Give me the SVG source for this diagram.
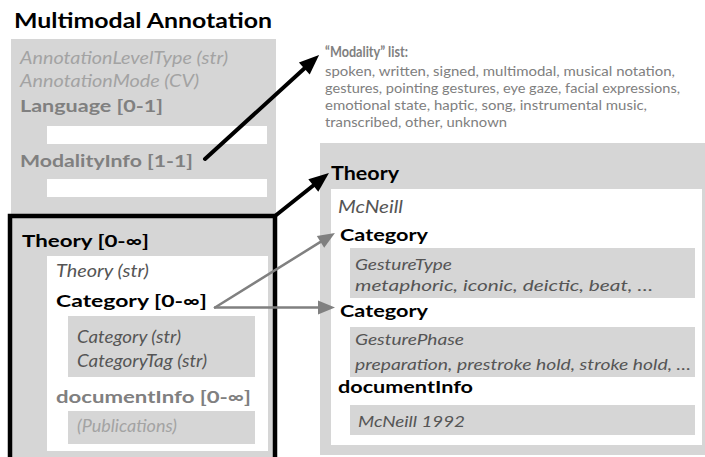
<svg xmlns="http://www.w3.org/2000/svg" width="705" height="457" viewBox="0 0 705 457">
  <style>
    text { font-family: Lato, "Open Sans", "Liberation Sans", sans-serif; }
    .panel { fill: #d6d6d6; }
    .white { fill: #ffffff; }
    .title { font-size: 20px; font-weight: bold; fill: #000; }
    .hdr { font-size: 17px; font-weight: bold; }
    .fld { font-size: 17px; font-style: italic; }
    .val { font-size: 15.5px; font-style: italic; fill: #555; }
    .black { fill: #000; }
    .mid { fill: #808080; }
    .light { fill: #a3a3a3; }
    .dark { fill: #555; }
    .list { font-size: 12.5px; fill: #808080; }
    .list-head { font-size: 14.5px; font-weight: bold; fill: #808080; }
    .big { font-size: 18.5px; }
    .name { font-size: 17px; }
    .conn-black { stroke: #000; stroke-width: 4; fill: none; stroke-linecap: round; }
    .conn-gray { stroke: #808080; stroke-width: 2.5; fill: none; stroke-linecap: round; }
  </style>
  <defs>
    <marker id="headBlack" markerUnits="userSpaceOnUse" markerWidth="22" markerHeight="18" refX="0" refY="8" orient="auto" overflow="visible">
      <path d="M0,0 L20,8 L0,16 Z" fill="#000"/>
    </marker>
    <marker id="headGray" markerUnits="userSpaceOnUse" markerWidth="19" markerHeight="15" refX="0" refY="7" orient="auto" overflow="visible">
      <path d="M0,0 L17,7 L0,14 Z" fill="#808080"/>
    </marker>
  </defs>

  <!-- Multimodal Annotation record -->
  <g id="multimodal-annotation">
    <text class="title" x="14" y="28" textLength="258" lengthAdjust="spacingAndGlyphs">Multimodal Annotation</text>
    <rect class="panel" x="11" y="39" width="265" height="420"/>
    <text class="fld light" x="20" y="64" textLength="208" lengthAdjust="spacingAndGlyphs">AnnotationLevelType (str)</text>
    <text class="fld light" x="20" y="87" textLength="179" lengthAdjust="spacingAndGlyphs">AnnotationMode (CV)</text>
    <text class="hdr mid" x="20" y="112" textLength="143" lengthAdjust="spacingAndGlyphs">Language [0-1]</text>
    <rect class="white" x="47" y="126" width="220" height="18"/>
    <text class="hdr mid" x="20" y="167" textLength="173" lengthAdjust="spacingAndGlyphs">ModalityInfo [1-1]</text>
    <rect class="white" x="47" y="179" width="220" height="18"/>
  </g>

  <!-- Theory element (highlighted) -->
  <g id="theory-element">
    <rect x="10" y="216" width="265" height="260" fill="#d6d6d6" stroke="#000" stroke-width="4.5"/>
    <text class="hdr black" x="22" y="247" textLength="127" lengthAdjust="spacingAndGlyphs">Theory [0-∞]</text>
    <rect class="white" x="47" y="256" width="221" height="195"/>
    <text class="fld dark" x="56" y="277" textLength="93" lengthAdjust="spacingAndGlyphs">Theory (str)</text>
    <text class="hdr black" x="56" y="307" textLength="151" lengthAdjust="spacingAndGlyphs">Category [0-∞]</text>
    <rect class="panel" x="68" y="316" width="187" height="61"/>
    <text class="fld dark" x="77" y="343" textLength="104" lengthAdjust="spacingAndGlyphs">Category (str)</text>
    <text class="fld dark" x="77" y="367" textLength="130" lengthAdjust="spacingAndGlyphs">CategoryTag (str)</text>
    <text class="hdr mid" x="56" y="403" textLength="195" lengthAdjust="spacingAndGlyphs">documentInfo [0-∞]</text>
    <rect class="panel" x="68" y="411" width="187" height="33"/>
    <text class="fld light" x="77" y="432" textLength="100" lengthAdjust="spacingAndGlyphs">(Publications)</text>
  </g>

  <!-- Modality vocabulary -->
  <g id="modality-list">
    <text class="list-head" x="325" y="57" textLength="83" lengthAdjust="spacingAndGlyphs">“Modality” list:</text>
    <text class="list" x="325" y="76" textLength="350" lengthAdjust="spacingAndGlyphs">spoken, written, signed, multimodal, musical notation,</text>
    <text class="list" x="325" y="93" textLength="355" lengthAdjust="spacingAndGlyphs">gestures, pointing gestures, eye gaze, facial expressions,</text>
    <text class="list" x="325" y="110" textLength="322" lengthAdjust="spacingAndGlyphs">emotional state, haptic, song, instrumental music,</text>
    <text class="list" x="325" y="127" textLength="182" lengthAdjust="spacingAndGlyphs">transcribed, other, unknown</text>
  </g>

  <!-- Theory example instance -->
  <g id="theory-example">
    <rect class="panel" x="320" y="143" width="385" height="312"/>
    <text class="hdr black big" x="331" y="180" textLength="68" lengthAdjust="spacingAndGlyphs">Theory</text>
    <rect class="white" x="331" y="189" width="371" height="256"/>
    <text class="val name" x="338" y="213" textLength="65" lengthAdjust="spacingAndGlyphs">McNeill</text>
    <text class="hdr black" x="340" y="241" textLength="88" lengthAdjust="spacingAndGlyphs">Category</text>
    <rect class="panel" x="350" y="248" width="345" height="50"/>
    <text class="val" x="355" y="270" textLength="97" lengthAdjust="spacingAndGlyphs">GestureType</text>
    <text class="val" x="355" y="291" textLength="298" lengthAdjust="spacingAndGlyphs">metaphoric, iconic, deictic, beat, …</text>
    <text class="hdr black" x="340" y="317" textLength="88" lengthAdjust="spacingAndGlyphs">Category</text>
    <rect class="panel" x="350" y="327" width="345" height="50"/>
    <text class="val" x="355" y="345" textLength="109" lengthAdjust="spacingAndGlyphs">GesturePhase</text>
    <text class="val" x="355" y="370" textLength="336" lengthAdjust="spacingAndGlyphs">preparation, prestroke hold, stroke hold, …</text>
    <text class="hdr black" x="338" y="393" textLength="135" lengthAdjust="spacingAndGlyphs">documentInfo</text>
    <rect class="panel" x="350" y="405" width="345" height="30"/>
    <text class="val" x="358" y="427" textLength="107" lengthAdjust="spacingAndGlyphs">McNeill 1992</text>
  </g>

  <!-- Connectors -->
  <g id="connectors">
    <line class="conn-black" x1="205" y1="159" x2="304.3" y2="68.5" marker-end="url(#headBlack)"/>
    <line class="conn-black" x1="275" y1="216" x2="313.3" y2="185.5" marker-end="url(#headBlack)"/>
    <line class="conn-gray" x1="215" y1="307.5" x2="320.5" y2="241.9" marker-end="url(#headGray)"/>
    <line class="conn-gray" x1="215" y1="307.5" x2="318" y2="307.5" marker-end="url(#headGray)"/>
  </g>
</svg>
